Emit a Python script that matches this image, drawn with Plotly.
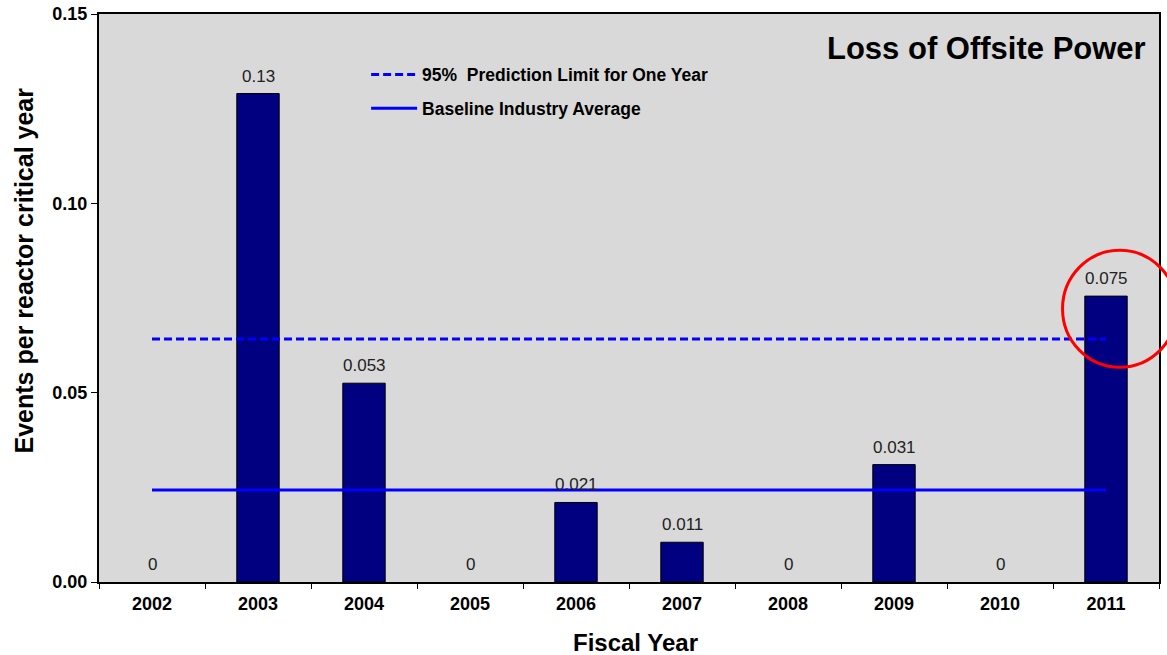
import plotly.graph_objects as go

FONT = "Arial, Liberation Sans, sans-serif"

years = ["2002", "2003", "2004", "2005", "2006", "2007", "2008", "2009", "2010", "2011"]
event_rates = [0, 0.129, 0.0525, 0, 0.021, 0.0105, 0, 0.031, 0, 0.0755]
rate_labels = ["0", "0.13", "0.053", "0", "0.021", "0.011", "0", "0.031", "0", "0.075"]

prediction_limit = 0.0642
baseline_average = 0.0243

fig = go.Figure()
fig.add_bar(
    x=years, y=event_rates,
    marker=dict(
        color="#000080",
        line=dict(color="black", width=[1 if v else 0 for v in event_rates]),
    ),
    width=0.4, showlegend=False, hoverinfo="x+y",
)
# value labels sit a little above each bar
# (category axis: annotation x is the category index)
for i, (v, lbl) in enumerate(zip(event_rates, rate_labels)):
    fig.add_annotation(
        x=i, y=v, text=lbl, showarrow=False,
        yanchor="bottom", yshift=6,
        font=dict(family=FONT, size=17, color="#222222"),
    )

fig.add_scatter(
    x=[years[0], years[-1]], y=[prediction_limit] * 2,
    mode="lines", name="95%  Prediction Limit for One Year",
    legendgroup="limit",
    line=dict(color="#0000FF", width=3, dash="8px,4px"),
)
fig.add_scatter(
    x=[years[0], years[-1]], y=[baseline_average] * 2,
    mode="lines", name="Baseline Industry Average",
    legendgroup="baseline",
    line=dict(color="#0000FF", width=3),
)

fig.add_annotation(
    text="<b>Loss of Offsite Power</b>",
    xref="paper", yref="paper", x=0.99, y=0.94,
    xanchor="right", yanchor="middle", showarrow=False,
    font=dict(family=FONT, size=31, color="black"),
)
# axis titles placed as annotations so they sit where the original has them
fig.add_annotation(
    text="<b>Fiscal Year</b>",
    xref="paper", yref="paper", x=0.506, y=-0.107,
    xanchor="center", yanchor="middle", showarrow=False,
    font=dict(family=FONT, size=24, color="black"),
)
fig.add_annotation(
    text="<b>Events per reactor critical year</b>", textangle=-90,
    xref="paper", yref="paper", x=-0.071, y=0.548,
    xanchor="center", yanchor="middle", showarrow=False,
    font=dict(family=FONT, size=25, color="black"),
)
# red highlight ring around the latest year
fig.add_shape(
    type="circle", xref="paper", yref="paper",
    x0=0.909, x1=1.017, y0=0.378, y1=0.584,
    line=dict(color="red", width=3),
)

fig.update_layout(
    width=1167, height=655,
    margin=dict(l=99, r=8, t=14, b=73),
    paper_bgcolor="white", plot_bgcolor="#D9D9D9",
    font=dict(family=FONT, color="black"),
    legend=dict(
        x=0.252, y=0.925, xanchor="left", yanchor="top",
        bgcolor="rgba(0,0,0,0)", traceorder="grouped", tracegroupgap=8,
        font=dict(family=FONT, size=17.5, color="black", weight="bold"),
        itemwidth=46,
    ),
    xaxis=dict(
        type="category",
        tickfont=dict(size=18, weight="bold"), ticklabelstandoff=4,
        tickson="boundaries", ticks="outside", ticklen=5, tickcolor="black",
        showline=True, mirror=True, linecolor="black", linewidth=2,
        showgrid=False, automargin=False,
    ),
    yaxis=dict(
        tickfont=dict(size=18, weight="bold"),
        range=[0, 0.15], dtick=0.05, tickformat=".2f",
        ticks="outside", ticklen=6, tickcolor="black",
        showline=True, mirror=True, linecolor="black", linewidth=2,
        showgrid=False, zeroline=False, automargin=False,
    ),
)

fig.write_html(
    "out.html",
    config={"displayModeBar": False},
    post_script="document.body.style.margin = '0';",
)
